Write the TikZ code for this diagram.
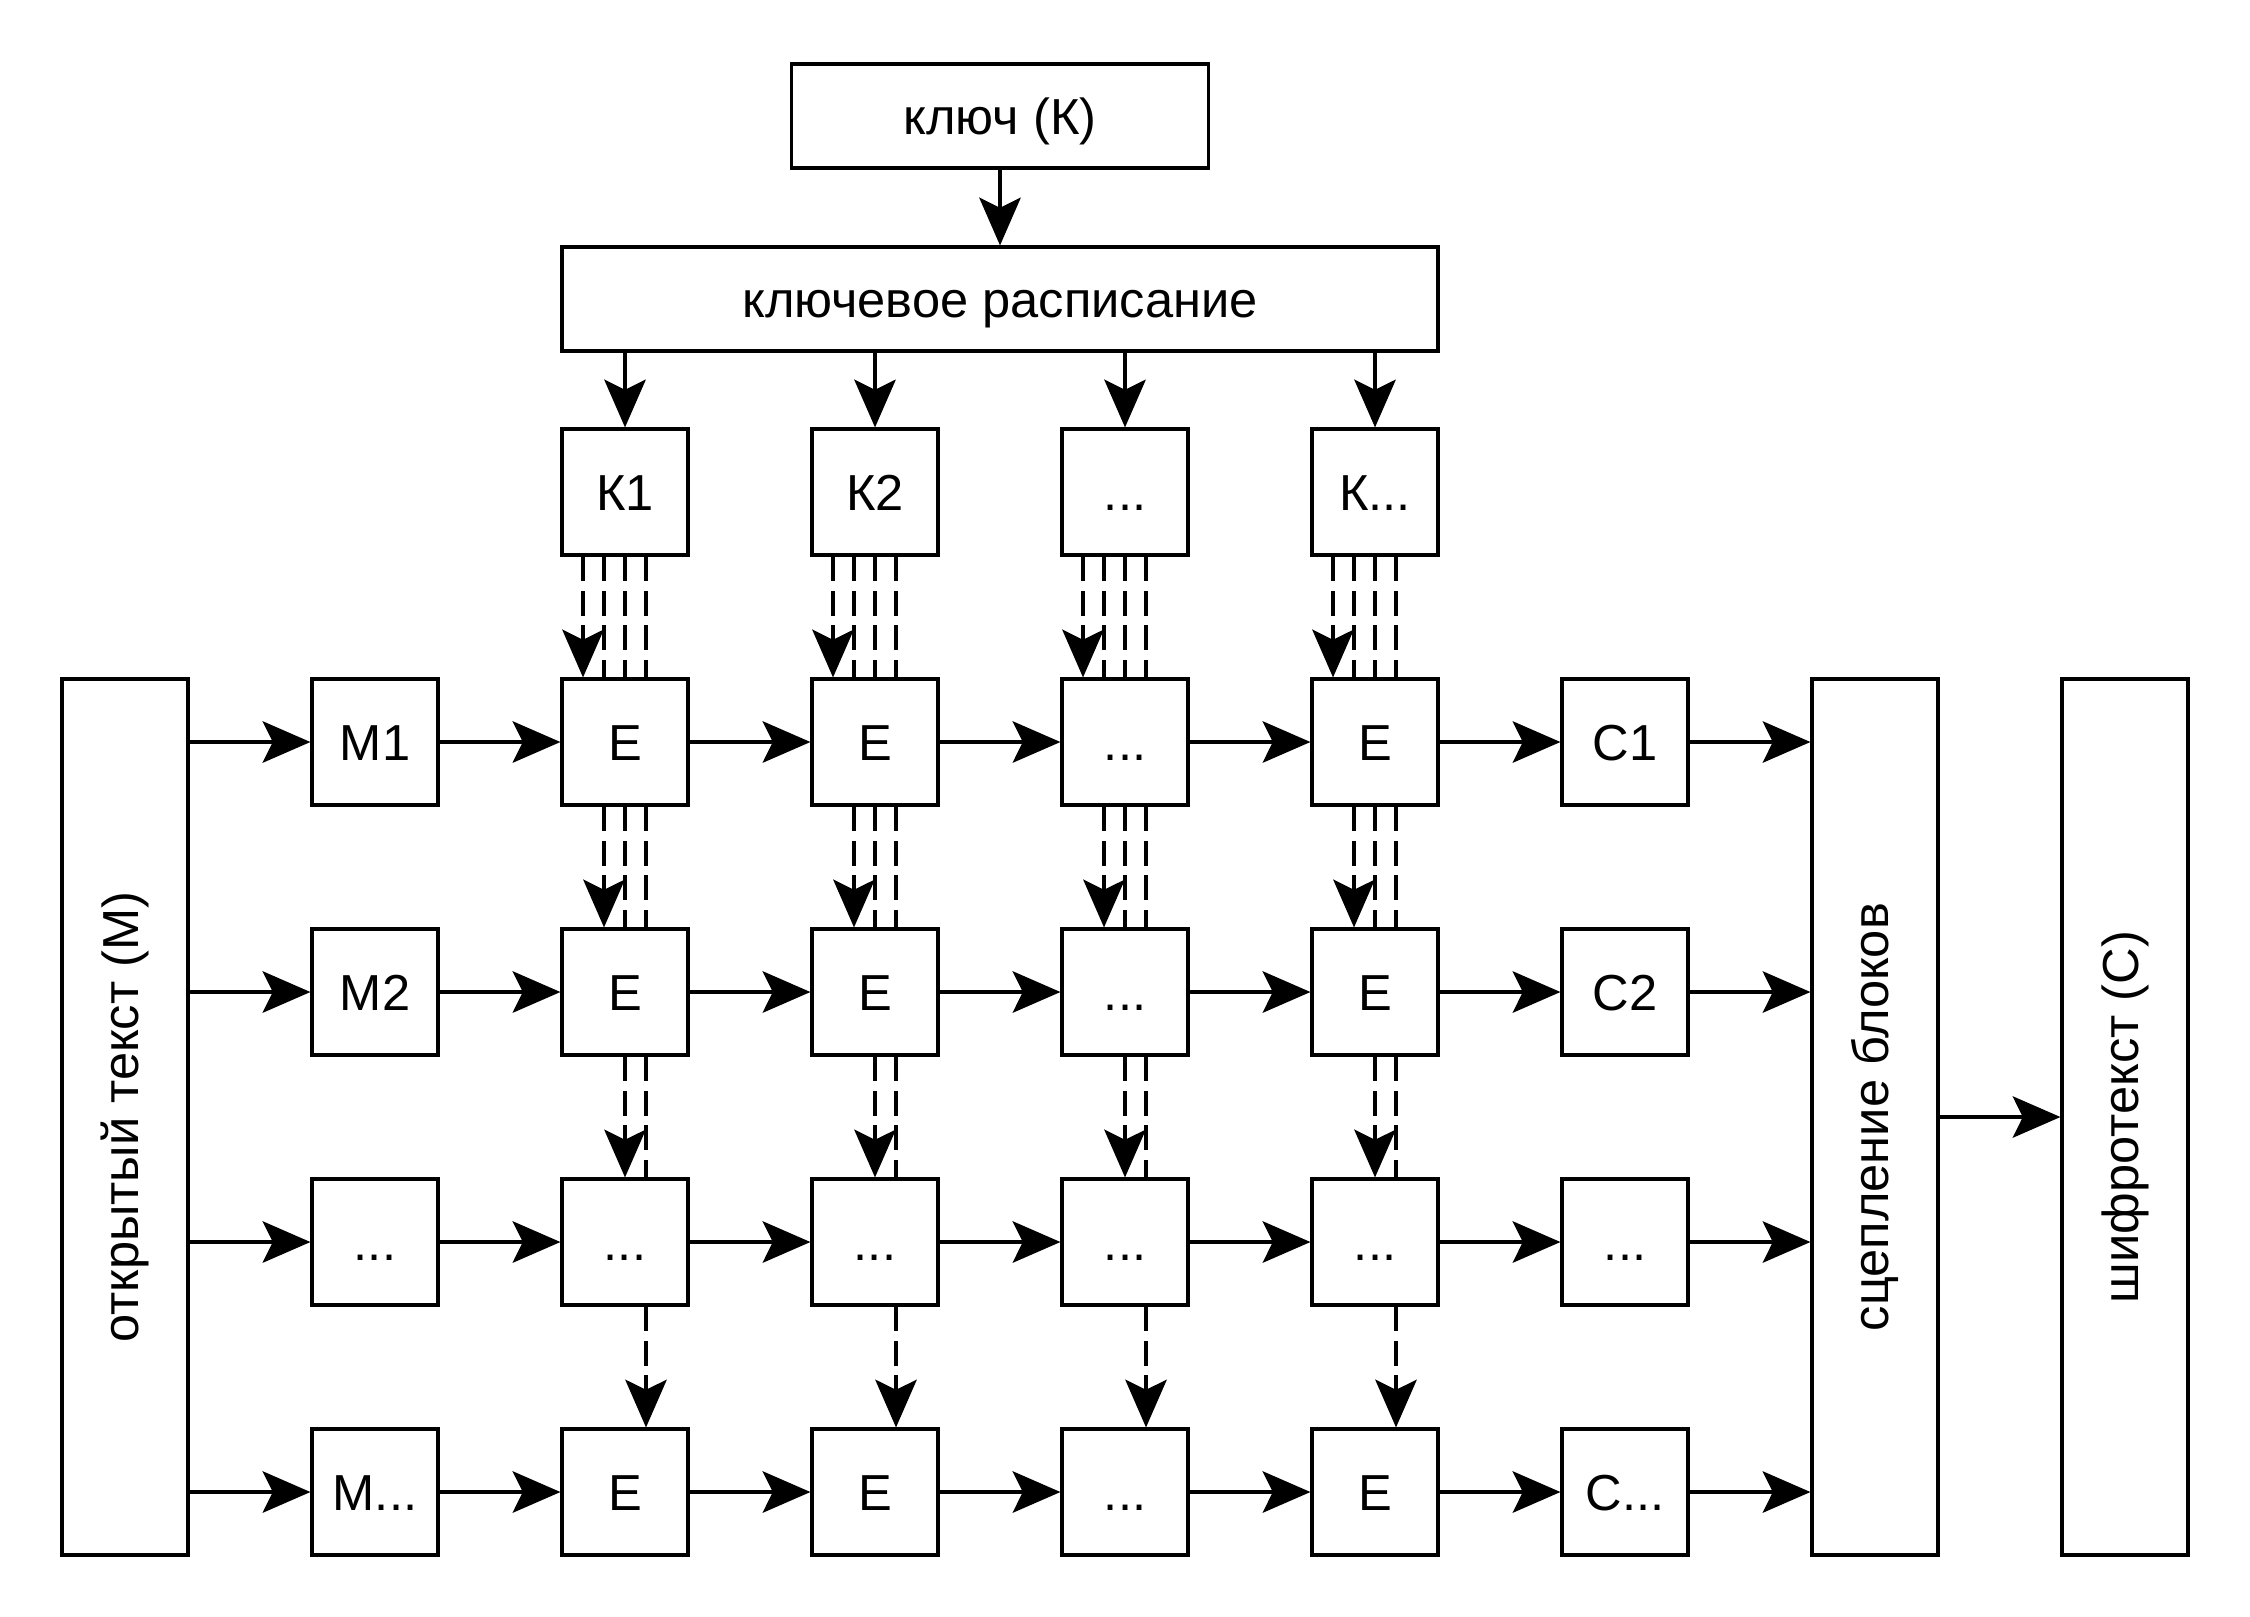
\documentclass[tikz,border=0pt]{standalone}
\usepackage{fontspec}
\setmainfont{Liberation Sans}
\usepackage{graphicx}
\usetikzlibrary{arrows.meta}

\begin{document}
\begin{tikzpicture}[
  blk/.style={draw, fill=white, line width=0.9pt, inner sep=0pt, minimum width=1.26cm, minimum height=1.26cm, font=\fontsize{14.4}{17}\selectfont, text height=1.04em, text depth=0pt},
  tall/.style={blk, minimum height=8.76cm, text height=, text depth=},
  wide/.style={blk, minimum height=1.04cm},
  flow/.style={line width=0.9pt, -{Stealth[length=13.6pt, width=11.8pt, inset=2.9pt]}},
  keyflow/.style={flow, dash pattern=on 7pt off 2.8pt}
]
\useasboundingbox (0,0) rectangle (22.5,-16.16);

% key and schedule
\node[wide, minimum width=4.17cm] (key) at (10,-1.16) {ключ (К)};
\node[wide, minimum width=8.76cm] (sched) at (10,-2.99) {ключевое расписание};
\node[blk] (k1) at (6.25,-4.92) {К1};
\node[blk] (k2) at (8.75,-4.92) {К2};
\node[blk] (k3) at (11.25,-4.92) {...};
\node[blk] (k4) at (13.75,-4.92) {К...};

% text blocks
\node[tall] (plain) at (1.25,-11.17) {\rotatebox{90}{открытый текст (М)}};
\node[tall] (chain) at (18.75,-11.17) {\rotatebox{90}{сцепление блоков}};
\node[tall] (cipher) at (21.25,-11.17) {\rotatebox{90}{шифротекст (С)}};

\node[blk] (m1) at (3.75,-7.42) {М1};
\node[blk] (m2) at (3.75,-9.92) {М2};
\node[blk] (m3) at (3.75,-12.42) {...};
\node[blk] (m4) at (3.75,-14.92) {М...};

\node[blk] (c1) at (16.25,-7.42) {С1};
\node[blk] (c2) at (16.25,-9.92) {С2};
\node[blk] (c3) at (16.25,-12.42) {...};
\node[blk] (c4) at (16.25,-14.92) {С...};

% rounds
\node[blk] (e11) at (6.25,-7.42) {E};
\node[blk] (e12) at (8.75,-7.42) {E};
\node[blk] (e13) at (11.25,-7.42) {...};
\node[blk] (e14) at (13.75,-7.42) {E};
\node[blk] (e21) at (6.25,-9.92) {E};
\node[blk] (e22) at (8.75,-9.92) {E};
\node[blk] (e23) at (11.25,-9.92) {...};
\node[blk] (e24) at (13.75,-9.92) {E};
\node[blk] (e31) at (6.25,-12.42) {...};
\node[blk] (e32) at (8.75,-12.42) {...};
\node[blk] (e33) at (11.25,-12.42) {...};
\node[blk] (e34) at (13.75,-12.42) {...};
\node[blk] (e41) at (6.25,-14.92) {E};
\node[blk] (e42) at (8.75,-14.92) {E};
\node[blk] (e43) at (11.25,-14.92) {...};
\node[blk] (e44) at (13.75,-14.92) {E};

\draw[flow] (key) -- (sched);
\draw[flow] (chain) -- (cipher);

\foreach \col in {1,2,3,4} {
  \draw[flow] (sched.south -| k\col) -- (k\col);
  % round keys down the column
  \draw[keyflow] ([xshift=-4.2mm]k\col.south) -- ([xshift=-4.2mm]e1\col.north);
  \draw[keyflow] ([xshift=-2.1mm]k\col.south) -- ([xshift=-2.1mm]e1\col.north)
    ([xshift=-2.1mm]e1\col.south) -- ([xshift=-2.1mm]e2\col.north);
  \draw[keyflow] (k\col.south) -- (e1\col.north) (e1\col.south) -- (e2\col.north)
    (e2\col.south) -- (e3\col.north);
  \draw[keyflow] ([xshift=2.1mm]k\col.south) -- ([xshift=2.1mm]e1\col.north)
    ([xshift=2.1mm]e1\col.south) -- ([xshift=2.1mm]e2\col.north)
    ([xshift=2.1mm]e2\col.south) -- ([xshift=2.1mm]e3\col.north)
    ([xshift=2.1mm]e3\col.south) -- ([xshift=2.1mm]e4\col.north);
}

\foreach \row in {1,2,3,4} {
  \draw[flow] (plain.east |- m\row) -- (m\row);
  \draw[flow] (m\row) -- (e\row1);
  \draw[flow] (e\row1) -- (e\row2);
  \draw[flow] (e\row2) -- (e\row3);
  \draw[flow] (e\row3) -- (e\row4);
  \draw[flow] (e\row4) -- (c\row);
  \draw[flow] (c\row) -- (chain.west |- c\row);
}
\end{tikzpicture}
\end{document}
